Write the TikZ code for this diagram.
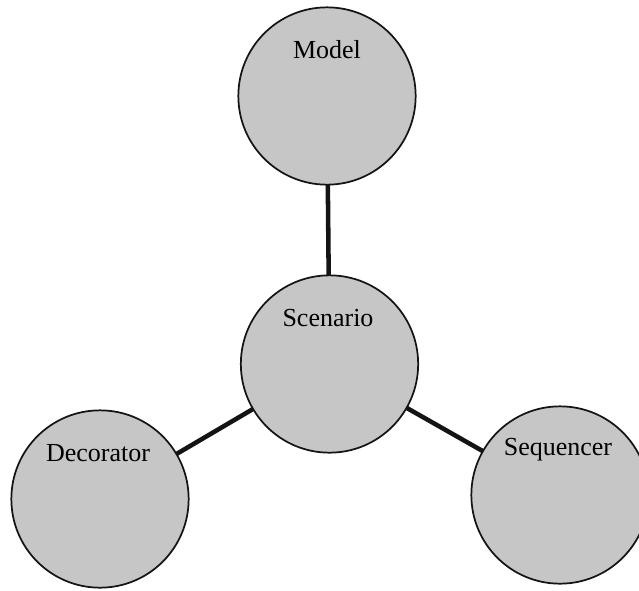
\documentclass[tikz,border=0pt]{standalone}
\usepackage{fontspec}
\setmainfont{Liberation Serif}
\definecolor{circfill}{RGB}{198,198,198}
\definecolor{inkline}{RGB}{20,20,20}
\begin{document}
\begin{tikzpicture}[x=0.75pt,y=-0.75pt,
  circ/.style={circle,draw=inkline,line width=1.3pt,fill=circfill,minimum size=133pt,inner sep=0pt,outer sep=0pt},
  lbl/.style={font=\fontsize{19.5}{23}\selectfont,text=black,inner sep=0pt},
  conn/.style={draw=inkline,line width=3.4pt}]
\useasboundingbox (0,0) rectangle (639,590);
\node[circ] (model) at (327,96) {};
\node[circ] (scen) at (329.5,364) {};
\node[circ] (deco) at (100,499) {};
\node[circ] (seq) at (560,495) {};
\draw[conn] (model) -- (scen);
\draw[conn] (scen) -- (deco);
\draw[conn] (scen) -- (seq);
\node[lbl] (modeltxt) at (327,50) {Model};
\node[lbl] (scentxt) at (328,318) {Scenario};
\node[lbl] (decotxt) at (98,453) {Decorator};
\node[lbl] (seqtxt) at (558,450) {Sequencer};
\end{tikzpicture}
\end{document}
